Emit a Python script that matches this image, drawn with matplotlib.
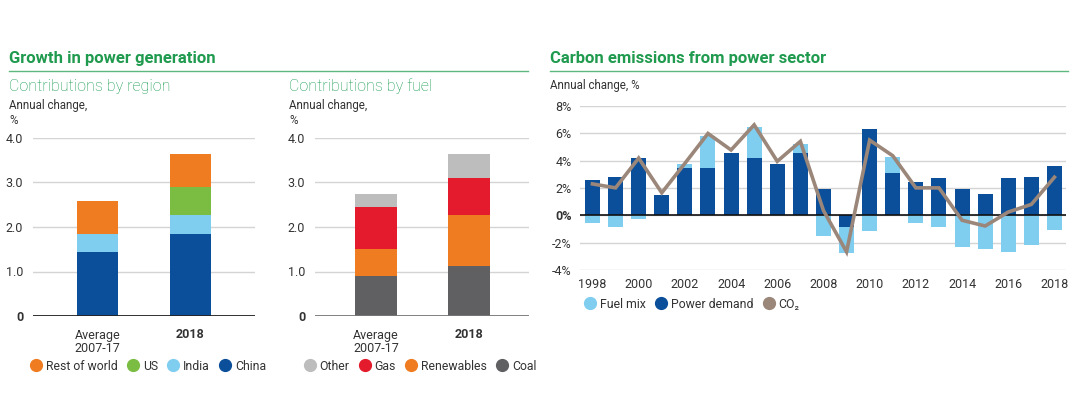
import numpy as np
import matplotlib as mpl
mpl.use('Agg')
import matplotlib.pyplot as plt
from matplotlib.lines import Line2D

plt.rcParams['font.family'] = ['Roboto', 'DejaVu Sans']

# ---- data ----
bar_labels = ['Average\n2007-17', '2018']

region_names = ['China', 'India', 'US', 'Rest of world']
china = [1.44, 1.85]
india = [0.41, 0.43]
us = [0.0, 0.61]
rest_of_world = [0.73, 0.76]

fuel_names = ['Coal', 'Renewables', 'Gas', 'Other']
coal = [0.90, 1.13]
renewables = [0.61, 1.14]
gas = [0.93, 0.84]
other = [0.31, 0.54]

years = list(range(1998, 2019))
power_demand = [2.62, 2.84, 4.22, 1.50, 3.44, 3.44, 4.58, 4.17, 3.78, 4.58, 1.94,
                -0.85, 6.33, 3.13, 2.47, 2.76, 1.96, 1.53, 2.76, 2.84, 3.64]
fuel_mix = [-0.56, -0.85, -0.27, 0.0, 0.34, 2.38, 0.0, 2.30, 0.0, 0.63, -1.50,
            -1.89, -1.16, 1.16, -0.56, -0.85, -2.30, -2.45, -2.67, -2.16, -1.07]
co2 = [2.30, 2.01, 4.19, 1.65, 3.80, 5.99, 4.78, 6.62, 3.95, 5.41, 0.35,
       -2.67, 5.50, 4.36, 2.01, 2.01, -0.36, -0.78, 0.24, 0.80, 2.79]

# ---- colours ----
DARK_BLUE = '#0b4f9a'
LIGHT_BLUE = '#7fcdef'
GREEN = '#7bbd43'
ORANGE = '#f07c22'
RED = '#e31b2c'
GREY_LIGHT = '#bdbdbd'
GREY_DARK = '#606063'
BROWN = '#9b867a'
TITLE_GREEN = '#1f9a4e'
SUB_GREEN = '#14994c'
TEXT = '#333333'
GRID = '#d4d4d4'

W, H = 1073, 403
fig = plt.figure(figsize=(W / 100, H / 100), dpi=100)


def fx(px):
    return px / W


def fy(py):
    return 1 - py / H


def axes_px(x0, y0, x1, y1):
    return fig.add_axes([fx(x0), fy(y1), fx(x1 - x0), (y1 - y0) / H])


# ---- headings ----
fig.text(fx(9), fy(58), 'Growth in power generation', color=TITLE_GREEN,
         fontsize=12, fontweight='bold', va='center', ha='left')
fig.text(fx(550), fy(58), 'Carbon emissions from power sector', color=TITLE_GREEN,
         fontsize=12, fontweight='bold', va='center', ha='left')
fig.add_artist(Line2D([fx(9), fx(528)], [fy(71), fy(71)], color='#5cb87e', lw=1.0))
fig.add_artist(Line2D([fx(550), fx(1068)], [fy(71), fy(71)], color='#5cb87e', lw=1.0))

fig.text(fx(9), fy(86), 'Contributions by region', color=SUB_GREEN,
         fontsize=11.5, fontweight='light', va='center')
fig.text(fx(289), fy(86), 'Contributions by fuel', color=SUB_GREEN,
         fontsize=11.5, fontweight='light', va='center')
for x0 in (9, 289):
    fig.text(fx(x0), fy(106), 'Annual change,', color=TEXT, fontsize=8.3, va='center')
    fig.text(fx(x0), fy(121), '%', color=TEXT, fontsize=8.3, va='center')
fig.text(fx(550), fy(85), 'Annual change, %', color=TEXT, fontsize=8.3, va='center')


def style_left(ax, zero_color):
    ax.set_ylim(0, 4.0)
    ax.set_yticks([0, 1, 2, 3, 4])
    ax.set_yticklabels(['0', '1.0', '2.0', '3.0', '4.0'])
    for sp in ax.spines.values():
        sp.set_visible(False)
    ax.tick_params(length=0, labelsize=9, colors=TEXT)
    ax.tick_params(axis='y', pad=7)
    ax.tick_params(axis='x', pad=9)
    ax.get_yticklabels()[0].set_fontweight('bold')
    ax.grid(axis='y', color=GRID, lw=1.0)
    ax.set_axisbelow(True)
    ax.axhline(0, color=zero_color, lw=1.3, zorder=3)
    ax.set_xticks([0, 1])
    ax.set_xticklabels(bar_labels, linespacing=1.1, va='top')
    ax.get_xticklabels()[1].set_fontweight('bold')


def legend_handles(colors, names):
    return [Line2D([], [], marker='o', ls='', markersize=8.5, markerfacecolor=c,
                   markeredgecolor=c, label=n) for c, n in zip(colors, names)]


LEG_KW = dict(frameon=False, fontsize=8.8, handlelength=0.9, handletextpad=0.35,
              columnspacing=0.8, borderaxespad=0, borderpad=0, labelcolor=TEXT)

# ---- region chart ----
ax1 = axes_px(33, 138, 255, 316)
x = np.arange(2)
bw = 0.44
bottom = np.zeros(2)
for vals, col in zip([china, india, us, rest_of_world], [DARK_BLUE, LIGHT_BLUE, GREEN, ORANGE]):
    ax1.bar(x, vals, bw, bottom=bottom, color=col, zorder=2)
    bottom += np.array(vals)
ax1.set_xlim(-0.694, 1.694)
style_left(ax1, '#222222')
ax1.legend(handles=legend_handles([ORANGE, GREEN, LIGHT_BLUE, DARK_BLUE],
                                  ['Rest of world', 'US', 'India', 'China']),
           loc='center left', bbox_to_anchor=(-0.01, (316 - 366) / 178), ncol=4, **LEG_KW)

# ---- fuel chart ----
ax2 = axes_px(315, 138, 529, 316)
bw2 = 0.45
bottom = np.zeros(2)
for vals, col in zip([coal, renewables, gas, other], [GREY_DARK, ORANGE, RED, GREY_LIGHT]):
    ax2.bar(x, vals, bw2, bottom=bottom, color=col, zorder=2)
    bottom += np.array(vals)
ax2.set_xlim(-0.66, 1.65)
style_left(ax2, '#777777')
ax2.legend(handles=legend_handles([GREY_LIGHT, RED, ORANGE, GREY_DARK],
                                  ['Other', 'Gas', 'Renewables', 'Coal']),
           loc='center left', bbox_to_anchor=(-0.05, (316 - 366) / 178), ncol=4, **LEG_KW)

# ---- carbon emissions chart ----
ax3 = axes_px(580, 106, 1066, 270)
yrs = np.array(years)
pd_arr = np.array(power_demand)
fm_arr = np.array(fuel_mix)
fm_bottom = np.where(np.sign(fm_arr) == np.sign(pd_arr), pd_arr, 0.0)
bw3 = 0.65
ax3.bar(yrs, pd_arr, bw3, color=DARK_BLUE, zorder=2)
ax3.bar(yrs, fm_arr, bw3, bottom=fm_bottom, color=LIGHT_BLUE, zorder=2)
ax3.plot(yrs, co2, color=BROWN, lw=2.6, zorder=4, solid_joinstyle='miter')
ax3.set_xlim(1998 - 0.54, 2018 + 0.5)
ax3.set_ylim(-4, 8)
ax3.set_yticks([-4, -2, 0, 2, 4, 6, 8])
ax3.set_yticklabels(['-4%', '-2%', '0%', '2%', '4%', '6%', '8%'])
ax3.set_xticks(range(1998, 2019, 2))
for sp in ax3.spines.values():
    sp.set_visible(False)
ax3.tick_params(length=0, labelsize=9, colors=TEXT)
ax3.tick_params(axis='y', pad=6)
ax3.tick_params(axis='x', pad=6)
ax3.get_yticklabels()[2].set_fontweight('bold')
ax3.grid(axis='y', color=GRID, lw=1.0)
ax3.set_axisbelow(True)
ax3.axhline(0, color='#111111', lw=1.2, zorder=3)
ax3.legend(handles=legend_handles([LIGHT_BLUE, DARK_BLUE, BROWN],
                                  ['Fuel mix', 'Power demand', 'CO\u2082']),
           loc='center left', bbox_to_anchor=(0.01, (270 - 304) / 164), ncol=3, **LEG_KW)

fig.savefig('out.png', dpi=100, facecolor='white')
